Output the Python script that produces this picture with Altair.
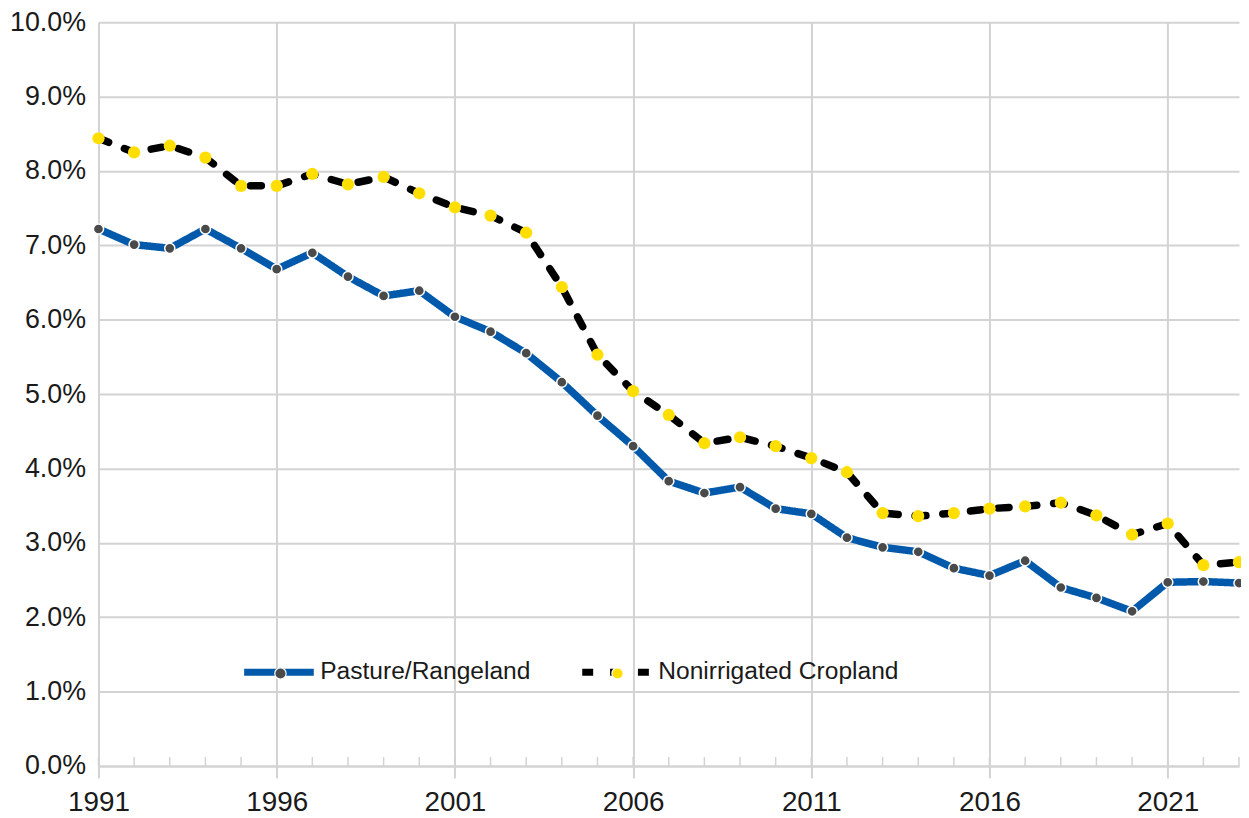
import altair as alt
import pandas as pd

# ---- data ----
years = list(range(1991, 2024))
series_names = ["Pasture/Rangeland", "Nonirrigated Cropland"]
pasture = [7.22, 7.01, 6.96, 7.22, 6.96, 6.68, 6.90, 6.58, 6.32, 6.39,
           6.04, 5.84, 5.55, 5.16, 4.71, 4.30, 3.83, 3.67, 3.75, 3.46,
           3.39, 3.07, 2.94, 2.88, 2.66, 2.56, 2.76, 2.40, 2.26, 2.08,
           2.47, 2.48, 2.46]
cropland = [8.44, 8.25, 8.34, 8.18, 7.80, 7.80, 7.96, 7.82, 7.92, 7.70,
            7.51, 7.40, 7.17, 6.44, 5.53, 5.04, 4.72, 4.34, 4.42, 4.30,
            4.14, 3.95, 3.40, 3.36, 3.40, 3.46, 3.49, 3.54, 3.37, 3.11,
            3.26, 2.70, 2.74]
major_years = [1991, 1996, 2001, 2006, 2011, 2016, 2021]
y_ticks = [i / 100 for i in range(0, 11)]

df = pd.DataFrame({
    "year": years * 2,
    "value": [v / 100 for v in pasture] + [v / 100 for v in cropland],
    "series": [series_names[0]] * len(years) + [series_names[1]] * len(years),
})
df["series_pt"] = df["series"]
minor_df = pd.DataFrame({"year": years})

FONT = "Liberation Sans"
GRID = "#d3d3d3"
TEXT = "#1a1a1a"
BLUE = "#0059aa"
YELLOW = "#ffde00"
GREY = "#4a4a4a"

x_scale = alt.Scale(domain=[years[0], years[-1]], nice=False, zero=False)
y_scale = alt.Scale(domain=[0, 0.10], nice=False)

x_axis = alt.Axis(values=major_years, format="d", title=None, grid=True,
                  gridColor=GRID, gridWidth=2, domainColor=GRID, domainWidth=2,
                  tickColor=GRID, tickWidth=2, tickSize=12,
                  labelFontSize=28, labelFont=FONT, labelColor=TEXT,
                  labelPadding=11, labelFlush=False)
y_axis = alt.Axis(values=y_ticks, format=".1%", title=None, grid=True,
                  gridColor=GRID, gridWidth=2, domainColor=GRID, domainWidth=2,
                  ticks=False, labelFontSize=27, labelFont=FONT, labelColor=TEXT,
                  labelPadding=13)

line_legend = alt.Legend(orient="none", legendX=143, legendY=615, direction="horizontal",
                         title=None, symbolType="stroke", symbolSize=4900,
                         symbolStrokeWidth=7, labelOffset=3, columnPadding=37,
                         labelFontSize=24.7, labelFont=FONT, labelColor=TEXT,
                         labelLimit=600, padding=0)
point_legend = alt.Legend(orient="none", legendX=171, legendY=643, direction="horizontal",
                          title=None, symbolType="circle", symbolSize=130,
                          symbolStrokeColor="white", symbolStrokeWidth=1.2,
                          labelOffset=0, columnPadding=315, labelExpr="''",
                          labelFontSize=24, labelFont=FONT, padding=0)

minor = alt.Chart(minor_df).mark_rule(color=GRID, strokeWidth=1.5).encode(
    x=alt.X("year:Q", scale=x_scale, axis=x_axis),
    y=alt.datum(0, scale=y_scale),
    y2=alt.datum(0.0012),
)

lines = alt.Chart(df).mark_line(strokeWidth=7.5, strokeCap="round", strokeJoin="round").encode(
    x=alt.X("year:Q", scale=x_scale, axis=x_axis),
    y=alt.Y("value:Q", scale=y_scale, axis=y_axis),
    color=alt.Color("series:N", scale=alt.Scale(domain=series_names, range=[BLUE, "black"]),
                    legend=line_legend, sort=series_names),
    strokeDash=alt.StrokeDash("series:N", scale=alt.Scale(domain=series_names, range=[[1, 0], [11, 17]]),
                              legend=line_legend, sort=series_names),
)

points = alt.Chart(df).mark_circle(opacity=1, size=105, stroke="white", strokeWidth=1.5).encode(
    x=alt.X("year:Q", scale=x_scale, axis=x_axis),
    y=alt.Y("value:Q", scale=y_scale, axis=y_axis),
    fill=alt.Fill("series_pt:N", scale=alt.Scale(range=[GREY, YELLOW]),
                  legend=point_legend, sort=series_names),
)

yellow_points = alt.Chart(df).transform_filter(
    alt.datum.series == series_names[1]
).mark_circle(opacity=1, size=150, color=YELLOW).encode(
    x=alt.X("year:Q", scale=x_scale, axis=x_axis),
    y=alt.Y("value:Q", scale=y_scale, axis=y_axis),
)

chart = alt.layer(minor, lines, points, yellow_points).properties(
    width=1147, height=748,
    autosize=alt.AutoSizeParams(type="none"),
    padding={"left": 91, "top": 12, "right": 2, "bottom": 50},
    background="white",
).configure_view(stroke=None)

chart.save("out.html", embed_options={"renderer": "svg", "actions": False})
